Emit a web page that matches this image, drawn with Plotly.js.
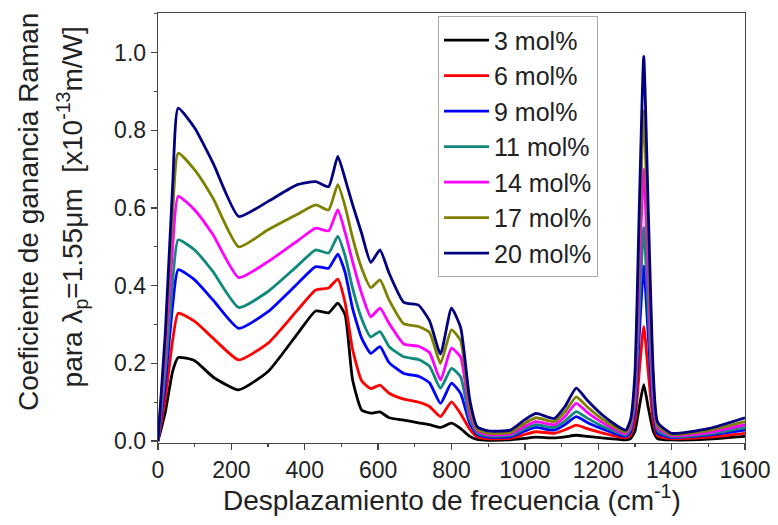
<!DOCTYPE html>
<html>
<head>
<meta charset="utf-8">
<script src="https://cdn.plot.ly/plotly-3.0.1.min.js"></script>
<style>
html,body{margin:0;padding:0;background:#fff;}
#chart{width:778px;height:525px;}
</style>
</head>
<body>
<div id="chart"></div>
<script>
// Raman shift (cm^-1)
const shift = [0, 20, 40, 55, 100, 150, 220, 300, 380, 430, 465, 490, 510, 530, 555, 580, 605, 630, 670, 710, 740, 770, 800, 825, 850, 870, 900, 960, 1000, 1030, 1080, 1110, 1140, 1170, 1210, 1250, 1275, 1288, 1300, 1312, 1324, 1336, 1350, 1362, 1400, 1500, 1600];

// Raman gain coefficient (x1e-13 m/W) per composition
const g3 = [0, 0.075, 0.18, 0.215, 0.207, 0.165, 0.132, 0.179, 0.276, 0.335, 0.33, 0.355, 0.325, 0.16, 0.08, 0.072, 0.075, 0.06, 0.054, 0.047, 0.042, 0.035, 0.046, 0.032, 0.012, 0.004, 0.002, 0.003, 0.007, 0.01, 0.008, 0.011, 0.015, 0.012, 0.008, 0.005, 0.003, 0.006, 0.025, 0.088, 0.145, 0.088, 0.025, 0.006, 0.003, 0.005, 0.012];
const g6 = [0, 0.11, 0.26, 0.329, 0.308, 0.265, 0.209, 0.252, 0.337, 0.389, 0.394, 0.417, 0.356, 0.238, 0.155, 0.135, 0.144, 0.123, 0.108, 0.1, 0.089, 0.063, 0.101, 0.07, 0.03, 0.011, 0.006, 0.007, 0.017, 0.024, 0.02, 0.029, 0.041, 0.032, 0.021, 0.012, 0.008, 0.016, 0.052, 0.18, 0.295, 0.18, 0.052, 0.014, 0.006, 0.01, 0.02];
const g9 = [0, 0.15, 0.35, 0.441, 0.415, 0.363, 0.29, 0.333, 0.405, 0.449, 0.445, 0.481, 0.434, 0.343, 0.265, 0.226, 0.243, 0.202, 0.174, 0.167, 0.15, 0.097, 0.149, 0.122, 0.045, 0.017, 0.01, 0.011, 0.026, 0.035, 0.028, 0.043, 0.063, 0.048, 0.032, 0.018, 0.012, 0.024, 0.078, 0.275, 0.45, 0.275, 0.078, 0.02, 0.009, 0.015, 0.028];
const g11 = [0, 0.18, 0.41, 0.518, 0.492, 0.436, 0.344, 0.385, 0.451, 0.492, 0.484, 0.527, 0.477, 0.395, 0.315, 0.268, 0.282, 0.243, 0.217, 0.21, 0.193, 0.136, 0.187, 0.165, 0.055, 0.021, 0.013, 0.014, 0.032, 0.042, 0.035, 0.052, 0.076, 0.059, 0.039, 0.023, 0.015, 0.03, 0.097, 0.337, 0.55, 0.337, 0.097, 0.027, 0.011, 0.018, 0.035];
const g14 = [0, 0.22, 0.5, 0.63, 0.595, 0.531, 0.421, 0.462, 0.515, 0.548, 0.541, 0.595, 0.537, 0.463, 0.38, 0.32, 0.342, 0.303, 0.25, 0.244, 0.228, 0.157, 0.239, 0.216, 0.07, 0.026, 0.016, 0.018, 0.038, 0.05, 0.042, 0.064, 0.097, 0.074, 0.048, 0.028, 0.019, 0.037, 0.122, 0.428, 0.70, 0.428, 0.122, 0.034, 0.014, 0.022, 0.042];
const g17 = [0, 0.25, 0.59, 0.741, 0.698, 0.625, 0.50, 0.544, 0.584, 0.608, 0.595, 0.66, 0.604, 0.525, 0.445, 0.395, 0.415, 0.363, 0.302, 0.295, 0.28, 0.2, 0.286, 0.258, 0.085, 0.03, 0.02, 0.022, 0.046, 0.06, 0.05, 0.076, 0.114, 0.088, 0.057, 0.033, 0.023, 0.045, 0.15, 0.52, 0.85, 0.52, 0.15, 0.04, 0.017, 0.027, 0.05];
const g20 = [0, 0.28, 0.66, 0.857, 0.806, 0.716, 0.578, 0.617, 0.66, 0.668, 0.655, 0.733, 0.675, 0.61, 0.535, 0.46, 0.492, 0.432, 0.357, 0.35, 0.31, 0.224, 0.342, 0.292, 0.105, 0.037, 0.026, 0.028, 0.055, 0.071, 0.058, 0.09, 0.136, 0.105, 0.068, 0.04, 0.028, 0.055, 0.175, 0.606, 0.99, 0.606, 0.175, 0.048, 0.02, 0.032, 0.06];

const seriesNames = ["3 mol%", "6 mol%", "9 mol%", "11 mol%", "14 mol%", "17 mol%", "20 mol%"];
const seriesValues = [g3, g6, g9, g11, g14, g17, g20];
const seriesColors = ["#000000", "#ff0000", "#0000ff", "#10887c", "#ff00ff", "#808000", "#000080"];

const xTitle = "Desplazamiento de frecuencia (cm<sup>-1</sup>)";
const yTitleLine1 = "Coeficiente de ganancia Raman";
const yTitleLine2 = "para λ<sub>p</sub>=1.55μm  [x10<sup>-13</sup>m/W]";

const FONT = "Liberation Sans, Arial, Helvetica, sans-serif";

const traces = seriesValues.map((vals, i) => ({
  x: shift,
  y: vals,
  type: "scatter",
  mode: "lines",
  name: seriesNames[i],
  line: {color: seriesColors[i], width: 2.8, shape: "spline", smoothing: 0.5}
}));

const axisCommon = {
  showgrid: false,
  zeroline: false,
  showline: true,
  linecolor: "#444",
  linewidth: 1.3,
  mirror: true,
  ticks: "outside",
  ticklen: 6,
  tickwidth: 1.3,
  tickcolor: "#444",
  tickfont: {family: FONT, size: 23, color: "#222"}
};

const layout = {
  width: 778,
  height: 525,
  margin: {l: 158, r: 33, t: 13, b: 82},
  paper_bgcolor: "#ffffff",
  plot_bgcolor: "#ffffff",
  font: {family: FONT, color: "#222"},
  showlegend: true,
  legend: {
    x: 0.477, y: 0.992, xanchor: "left", yanchor: "top",
    bgcolor: "rgba(255,255,255,0.95)",
    bordercolor: "#aaaaaa", borderwidth: 1,
    font: {family: FONT, size: 25, color: "#222"},
    itemwidth: 45,
    tracegroupgap: 0
  },
  xaxis: Object.assign({}, axisCommon, {
    range: [0, 1600],
    tickmode: "linear", tick0: 0, dtick: 200,
    minor: {dtick: 100, ticks: "outside", ticklen: 3, tickcolor: "#444", tickwidth: 1.2}
  }),
  yaxis: Object.assign({}, axisCommon, {
    range: [-0.005, 1.102],
    tickmode: "linear", tick0: 0, dtick: 0.2,
    tickformat: ".1f",
    minor: {dtick: 0.1, ticks: "outside", ticklen: 3, tickcolor: "#444", tickwidth: 1.2}
  }),
  annotations: [
    {text: xTitle, xref: "paper", yref: "paper",
     x: 0.5, y: -0.128, xanchor: "center", yanchor: "middle",
     showarrow: false, font: {family: FONT, size: 28, color: "#222"}},
    {text: yTitleLine1, xref: "paper", yref: "paper",
     x: -0.2215, y: 0.537, xanchor: "center", yanchor: "middle", textangle: -90,
     showarrow: false, font: {family: FONT, size: 28, color: "#222"}},
    {text: yTitleLine2, xref: "paper", yref: "paper",
     x: -0.145, y: 0.55, xanchor: "center", yanchor: "middle", textangle: -90,
     showarrow: false, font: {family: FONT, size: 28, color: "#222"}}
  ]
};

Plotly.newPlot("chart", traces, layout, {displayModeBar: false, staticPlot: true});
</script>
</body>
</html>
